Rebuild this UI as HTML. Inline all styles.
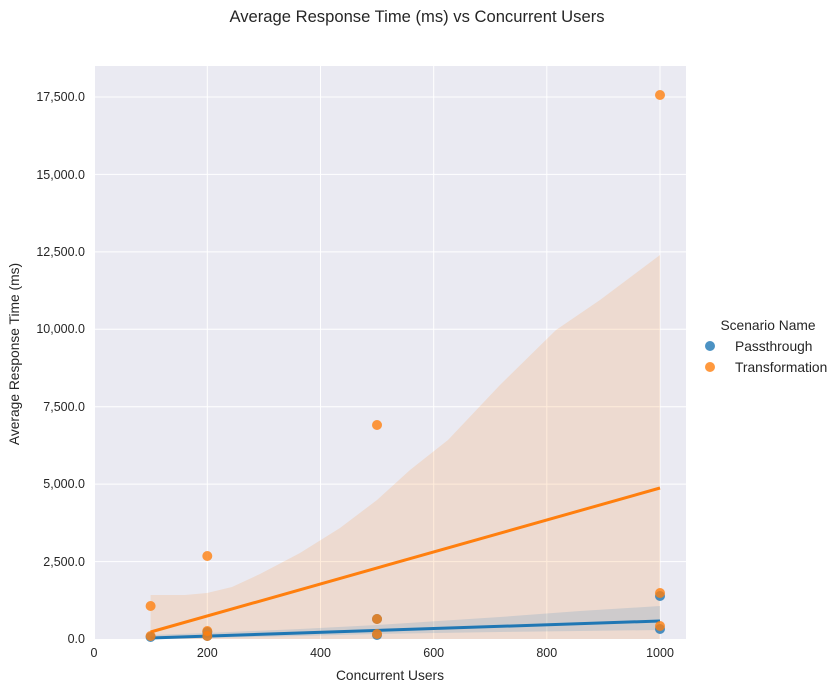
<!DOCTYPE html>
<html><head><style>
body{margin:0;background:#fff;}
svg text{font-family:"Liberation Sans",Arial,sans-serif;fill:#262626;}
</style></head><body>
<svg width="839" height="693" viewBox="0 0 839 693" xmlns="http://www.w3.org/2000/svg">
<rect x="0" y="0" width="839" height="693" fill="#fff"/>
<text x="417" y="22" font-size="16.6" text-anchor="middle">Average Response Time (ms) vs Concurrent Users</text>
<rect x="95" y="66" width="591" height="573" fill="#eaeaf2"/>
<g stroke="#fff" stroke-width="1">
<line x1="207.3" y1="66" x2="207.3" y2="639"/>
<line x1="320.5" y1="66" x2="320.5" y2="639"/>
<line x1="433.7" y1="66" x2="433.7" y2="639"/>
<line x1="546.8" y1="66" x2="546.8" y2="639"/>
<line x1="660" y1="66" x2="660" y2="639"/>
<line x1="95" y1="561.6" x2="686" y2="561.6"/>
<line x1="95" y1="484.1" x2="686" y2="484.1"/>
<line x1="95" y1="406.7" x2="686" y2="406.7"/>
<line x1="95" y1="329.3" x2="686" y2="329.3"/>
<line x1="95" y1="251.9" x2="686" y2="251.9"/>
<line x1="95" y1="174.4" x2="686" y2="174.4"/>
<line x1="95" y1="97" x2="686" y2="97"/>
</g>
<path d="M150.6,595 L185,595 L207,593 L232,587 L260,574 L300,553 L340,528 L377,500 L410,470 L448,440 L500,385 L556,330 L600,300 L660,255 L660,639 L150.6,639 Z" fill="#ff7f0e" fill-opacity="0.15"/>
<path d="M150.6,635 L207,633 L300,629 L377,625 L500,617 L580,611 L660,606 L660,630 L580,631 L500,632 L377,634 L300,636 L207,638 L150.6,639 Z" fill="#1f77b4" fill-opacity="0.15"/>
<line x1="150.6" y1="632" x2="660" y2="488" stroke="#ff7f0e" stroke-width="3"/>
<line x1="150.6" y1="638" x2="660" y2="621" stroke="#1f77b4" stroke-width="3"/>
<g fill="#1f77b4" fill-opacity="0.8">
<circle cx="150.6" cy="637" r="5"/>
<circle cx="207.3" cy="636" r="5"/>
<circle cx="207.3" cy="632" r="5"/>
<circle cx="377" cy="635" r="5"/>
<circle cx="377" cy="619" r="5"/>
<circle cx="660" cy="596" r="5"/>
<circle cx="660" cy="629" r="5"/>
</g>
<g fill="#ff7f0e" fill-opacity="0.8">
<circle cx="150.6" cy="606" r="5"/>
<circle cx="150.6" cy="636" r="5"/>
<circle cx="207.3" cy="556" r="5"/>
<circle cx="207.3" cy="631" r="5"/>
<circle cx="207.3" cy="636" r="5"/>
<circle cx="377" cy="425" r="5"/>
<circle cx="377" cy="619" r="5"/>
<circle cx="377" cy="634" r="5"/>
<circle cx="660" cy="95" r="5"/>
<circle cx="660" cy="593" r="5"/>
<circle cx="660" cy="626" r="5"/>
</g>
<g font-size="12.5" text-anchor="middle">
<text x="94" y="657">0</text>
<text x="207.3" y="657">200</text>
<text x="320.5" y="657">400</text>
<text x="433.7" y="657">600</text>
<text x="546.8" y="657">800</text>
<text x="660" y="657">1000</text>
</g>
<g font-size="12.5" text-anchor="end">
<text x="85" y="643">0.0</text>
<text x="85" y="566">2,500.0</text>
<text x="85" y="488">5,000.0</text>
<text x="85" y="411">7,500.0</text>
<text x="85" y="333">10,000.0</text>
<text x="85" y="256">12,500.0</text>
<text x="85" y="179">15,000.0</text>
<text x="85" y="101">17,500.0</text>
</g>
<text x="390" y="680" font-size="13.8" text-anchor="middle">Concurrent Users</text>
<text transform="translate(19,354) rotate(-90)" font-size="13.8" text-anchor="middle">Average Response Time (ms)</text>
<text x="768" y="330" font-size="13.8" text-anchor="middle">Scenario Name</text>
<circle cx="710" cy="346" r="5" fill="#1f77b4" fill-opacity="0.8"/>
<text x="735" y="351" font-size="13.8">Passthrough</text>
<circle cx="710" cy="367" r="5" fill="#ff7f0e" fill-opacity="0.8"/>
<text x="735" y="372" font-size="13.8">Transformation</text>
</svg>
</body></html>
